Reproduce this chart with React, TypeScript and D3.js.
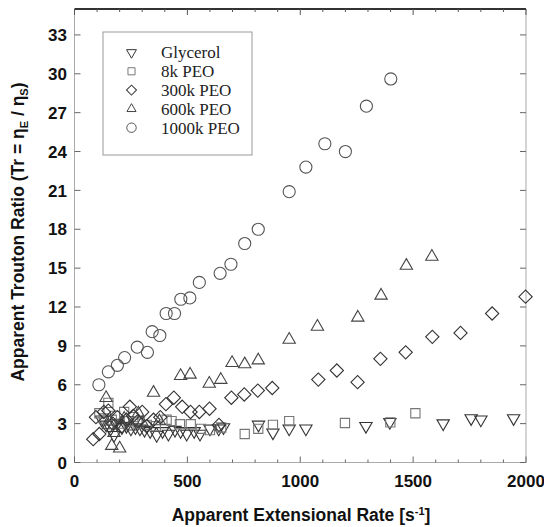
import React from "react";
import * as d3 from "d3";

const xTicks = [0, 500, 1000, 1500, 2000];
const yTicks = [0, 3, 6, 9, 12, 15, 18, 21, 24, 27, 30, 33];

const glycerol: [number, number][] = [
  [120, 3.2], [140, 2.8], [160, 2.5], [175, 2.0], [190, 2.9], [210, 2.6], [230, 2.7], [250, 2.5],
  [270, 2.6], [290, 2.5], [310, 2.4], [335, 2.3], [364, 2.0], [390, 2.3], [416, 2.1], [445, 2.4],
  [470, 2.3], [497, 2.1], [530, 2.3], [556, 2.1], [600, 2.5], [639, 2.5], [660, 2.6],
  [815, 2.8], [879, 2.2], [951, 2.5], [1025, 2.5], [1291, 2.7], [1397, 3.0], [1633, 2.9],
  [1757, 3.3], [1800, 3.2], [1945, 3.3],
];
const peo8k: [number, number][] = [
  [110, 3.8], [130, 3.4], [150, 4.6], [165, 3.3], [180, 3.6], [200, 3.0], [220, 3.9], [240, 3.2],
  [260, 3.5], [280, 3.0], [320, 2.9], [360, 2.8], [408, 3.3], [430, 3.2], [467, 2.95], [515, 2.95],
  [560, 2.6], [600, 2.5], [650, 2.7], [754, 2.2], [814, 2.6], [879, 2.9], [951, 3.2],
  [1198, 3.05], [1399, 3.1], [1510, 3.8],
];
const peo300k: [number, number][] = [
  [83, 1.8], [95, 3.5], [110, 2.2], [130, 3.9], [150, 4.0], [170, 3.0], [190, 3.5], [210, 2.8],
  [230, 3.3], [245, 4.3], [260, 3.6], [280, 3.2], [300, 3.9], [320, 2.8], [350, 3.3], [380, 3.5],
  [405, 4.5], [440, 5.0], [477, 4.3], [514, 3.9], [553, 3.9], [598, 4.15], [640, 2.9],
  [695, 5.0], [752, 5.25], [812, 5.55], [876, 5.75], [1080, 6.4], [1162, 7.1], [1254, 6.2],
  [1355, 8.0], [1467, 8.5], [1585, 9.7], [1710, 10.0], [1850, 11.5], [1998, 12.8],
];
const peo600k: [number, number][] = [
  [140, 5.1], [150, 3.0], [165, 1.4], [175, 2.4], [200, 1.2], [220, 3.5], [250, 2.9], [283, 3.9],
  [300, 3.2], [350, 5.5], [376, 3.3], [470, 6.8], [512, 6.9], [597, 6.2], [648, 6.5], [698, 7.8],
  [754, 7.7], [814, 8.0], [951, 9.6], [1076, 10.6], [1255, 11.3], [1358, 13.0], [1470, 15.3],
  [1583, 16.0],
];
const peo1000k: [number, number][] = [
  [108, 6.0], [150, 7.0], [190, 7.5], [222, 8.1], [278, 8.9], [323, 8.5], [344, 10.1], [378, 9.8],
  [406, 11.5], [443, 11.5], [471, 12.6], [511, 12.7], [553, 13.9], [645, 14.6], [693, 15.3],
  [754, 16.9], [814, 18.0], [951, 20.9], [1025, 22.8], [1109, 24.6], [1200, 24.0], [1293, 27.5],
  [1401, 29.6],
];

const seriesNames = ["Glycerol", "8k PEO", "300k PEO", "600k PEO", "1000k PEO"];
const seriesData = [glycerol, peo8k, peo300k, peo600k, peo1000k];

const L = 74.5, R = 526, T = 9, B = 462.5;

export default function App() {
  const x = d3.scaleLinear().domain([0, 2000]).range([L, R]);
  const y = d3.scaleLinear().domain([0, 35]).range([B, T]);

  const shapes = [
    { type: d3.symbolTriangle, size: 66, rot: 180, dy: -1.5 },
    { type: d3.symbolSquare, size: 85, rot: 0, dy: 0 },
    { type: d3.symbolSquare, size: 88, rot: 45, dy: 0 },
    { type: d3.symbolTriangle, size: 66, rot: 0, dy: 1.5 },
    { type: d3.symbolCircle, size: 115, rot: 0, dy: 0 },
  ];
  const strokes = ["#333", "#777", "#333", "#444", "#555"];
  const legendShapes = [
    { type: d3.symbolTriangle, size: 42, rot: 180 },
    { type: d3.symbolSquare, size: 50, rot: 0 },
    { type: d3.symbolSquare, size: 50, rot: 45 },
    { type: d3.symbolTriangle, size: 36, rot: 0 },
    { type: d3.symbolCircle, size: 70, rot: 0 },
  ];

  const minor = d3.range(0, 2001, 100);

  return (
    <svg width={544} height={527} style={{ position: "absolute", left: 0, top: 0, background: "#fff" }}>
      <rect x={0} y={0} width={544} height={527} fill="#fff" />
      {/* frame */}
      <line x1={L} x2={L} y1={T} y2={B} stroke="#aaa" strokeWidth={1} />
      <line x1={R} x2={R} y1={T} y2={B} stroke="#aaa" strokeWidth={1} />
      <line x1={L} x2={R} y1={B} y2={B} stroke="#aaa" strokeWidth={1} />
      <line x1={L} x2={R} y1={T} y2={T} stroke="#333" strokeWidth={2} />
      {/* x ticks bottom and top */}
      {minor.map((v) => {
        const major = v % 500 === 0;
        const len = major ? 6 : 3;
        return (
          <g key={"xt" + v}>
            <line x1={x(v)} x2={x(v)} y1={B} y2={B - len} stroke="#666" strokeWidth={1} />
            <line x1={x(v)} x2={x(v)} y1={T} y2={T + len} stroke="#555" strokeWidth={1} />
          </g>
        );
      })}
      {yTicks.map((v) => (
        <g key={"yt" + v}>
          <line x1={L} x2={L + 6} y1={y(v)} y2={y(v)} stroke="#666" strokeWidth={1} />
          <line x1={R} x2={R - 6} y1={y(v)} y2={y(v)} stroke="#666" strokeWidth={1} />
          <text x={67} y={y(v)} dy="0.36em" textAnchor="end" fontFamily="Liberation Sans, Arial, sans-serif"
            fontWeight="bold" fontSize={17} fill="#111">{v}</text>
        </g>
      ))}
      {xTicks.map((v) => (
        <text key={"xl" + v} x={x(v)} y={487} textAnchor="middle" fontFamily="Liberation Sans, Arial, sans-serif"
          fontWeight="bold" fontSize={17} fill="#111">{v}</text>
      ))}
      {/* data */}
      {seriesData.map((data, i) => (
        <g key={"s" + i}>
          {data.map((d, j) => (
            <path key={j}
              d={d3.symbol().type(shapes[i].type).size(shapes[i].size)() as string}
              transform={`translate(${x(d[0])},${y(d[1]) + shapes[i].dy}) rotate(${shapes[i].rot})`}
              fill="none" stroke={strokes[i]} strokeWidth={1.1} />
          ))}
        </g>
      ))}
      {/* legend */}
      <rect x={103} y={32} width={149} height={123} fill="#fff" stroke="#999" strokeWidth={1} />
      {seriesNames.map((n, i) => {
        const yy = 52.5 + i * 18.8;
        return (
          <g key={"lg" + i}>
            <path d={d3.symbol().type(legendShapes[i].type).size(legendShapes[i].size)() as string}
              transform={`translate(131.5,${yy}) rotate(${legendShapes[i].rot})`}
              fill="none" stroke={strokes[i]} strokeWidth={1} />
            <text x={161} y={yy} dy="0.35em" fontFamily="Liberation Serif, Times New Roman, serif"
              fontSize={17} fill="#222">{n}</text>
          </g>
        );
      })}
      {/* axis titles */}
      <text x={301} y={521} textAnchor="middle" fontFamily="Liberation Sans, Arial, sans-serif" fontWeight="bold"
        fontSize={17.5} fill="#111">
        Apparent Extensional Rate [s<tspan dy={-6} fontSize={11}>-1</tspan><tspan dy={6}>]</tspan>
      </text>
      <text transform="translate(24,232) rotate(-90)" textAnchor="middle"
        fontFamily="Liberation Sans, Arial, sans-serif" fontWeight="bold" fontSize={17.5} fill="#111">
        Apparent Trouton Ratio (Tr = η<tspan dy={4} fontSize={11}>E</tspan><tspan dy={-4}> / η</tspan>
        <tspan dy={4} fontSize={11}>S</tspan><tspan dy={-4}>)</tspan>
      </text>
    </svg>
  );
}
